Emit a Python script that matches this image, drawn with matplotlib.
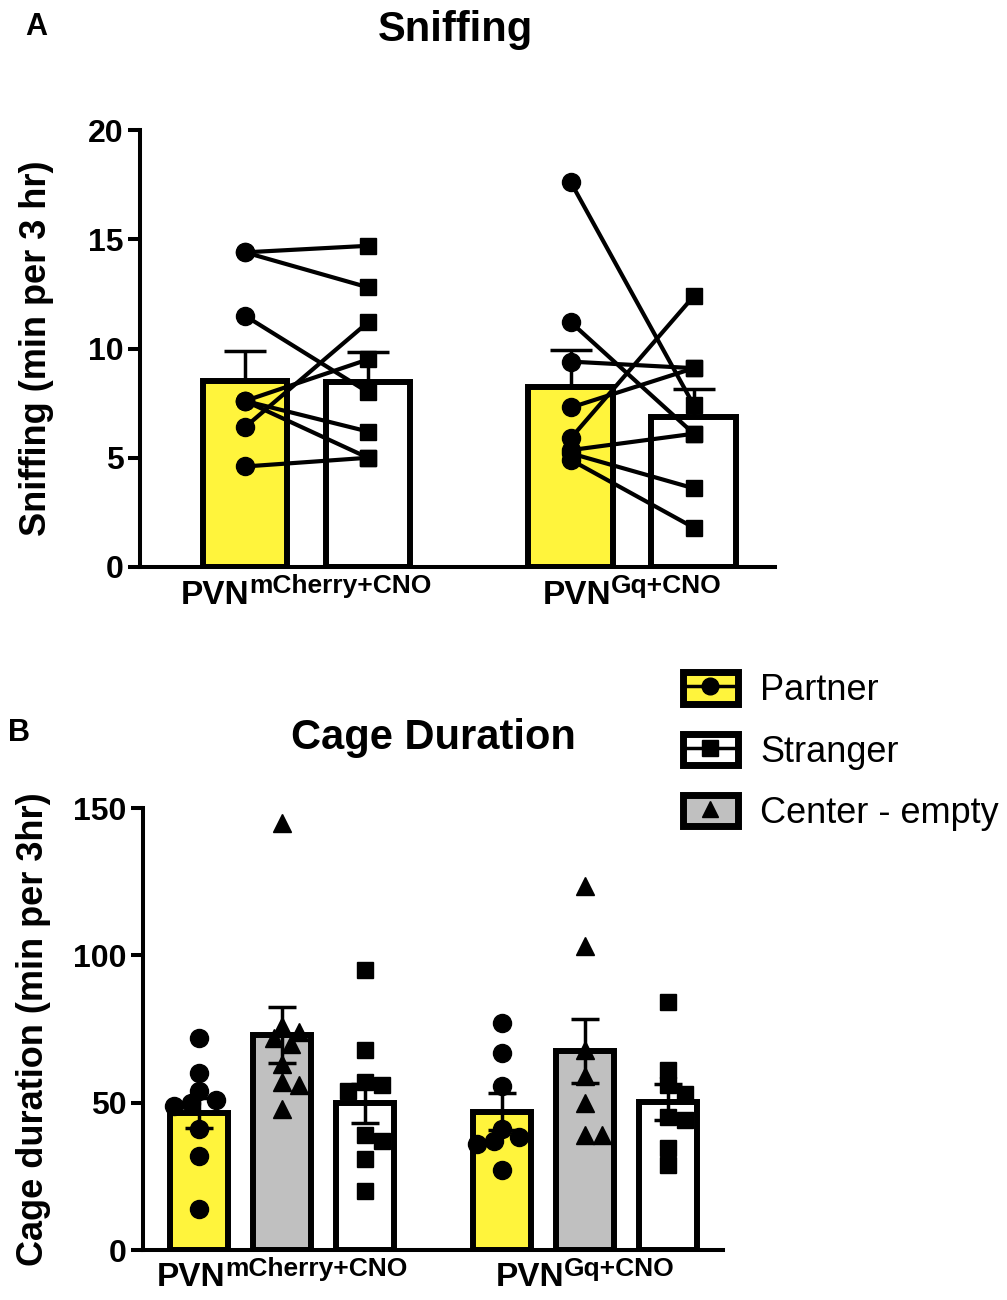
import matplotlib
matplotlib.use('Agg')
import matplotlib.pyplot as plt
from matplotlib.patches import Patch
from matplotlib.lines import Line2D

plt.rcParams['font.family'] = ['Liberation Sans', 'DejaVu Sans']

# ---- data ----
group_names = ['mCherry+CNO', 'Gq+CNO']

# A: sniffing, paired animals (partner -> stranger)
sniff_partner = [[14.4, 14.4, 11.5, 7.6, 7.6, 7.6, 6.4, 4.6],
                 [17.6, 11.2, 9.4, 7.3, 5.9, 5.35, 5.2, 4.9]]
sniff_stranger = [[14.7, 12.8, 8.0, 9.5, 6.2, 5.0, 11.2, 5.0],
                  [7.4, 6.1, 9.1, 9.1, 12.4, 6.1, 3.6, 1.8]]
sniff_mean_partner = [8.5, 8.25]
sniff_sem_partner = [1.4, 1.68]
sniff_mean_stranger = [8.45, 6.85]
sniff_sem_stranger = [1.4, 1.3]

# B: cage duration
cage_partner = [[72, 60, 54, 51, 50, 49, 41, 32, 14],
                [77, 67, 55.5, 41, 38.5, 37, 36, 27]]
cage_center = [[145, 76, 74, 72, 70, 63, 57, 56, 48],
               [123.5, 103, 68, 59, 50, 39, 39]]
cage_stranger = [[95, 68, 57, 56, 54, 39, 37, 31, 20],
                 [84, 61, 56, 53, 45, 44, 34.5, 29]]
cage_mean = {'partner': [46.5, 47.0], 'center': [73.0, 67.5], 'stranger': [49.8, 50.2]}
cage_sem = {'partner': [5.0, 6.2], 'center': [9.6, 10.8], 'stranger': [6.7, 6.0]}

YELLOW = '#FFF43C'
GRAY = '#C0C0C0'

fig = plt.figure(figsize=(10.07, 13.0), dpi=100)


def px_axes(l, t, r, b):
    W, H = 1007, 1300
    return fig.add_axes([l / W, 1 - b / H, (r - l) / W, (b - t) / H])


def style_axes(ax, ticks):
    for s in ['top', 'right']:
        ax.spines[s].set_visible(False)
    for s in ['left', 'bottom']:
        ax.spines[s].set_linewidth(2.9)
    ax.set_yticks(ticks, labels=[str(t) for t in ticks], fontsize=23, fontweight='bold')
    ax.tick_params(axis='y', length=9, width=2.9, pad=3)
    ax.set_xticks([])


def group_label(ax, xc, base, sup, ypad):
    # "PVN" with a superscript, centred as one block under xc
    r = fig.canvas.get_renderer()
    t1 = ax.annotate(base, xy=(xc, 0), xycoords=('data', 'axes fraction'),
                     xytext=(0, -ypad), textcoords='offset points',
                     ha='left', va='top', fontsize=24, fontweight='bold')
    t2 = ax.annotate(sup, xy=(1, 1), xycoords=t1, xytext=(0, 4),
                     textcoords='offset points', ha='left', va='top',
                     fontsize=19, fontweight='bold')
    w = t1.get_window_extent(r).width + t2.get_window_extent(r).width
    t1.xyann = (-w / 2 * 72 / fig.dpi, -ypad)


def swarm_x(vals, xc, xd, yd):
    placed, out = [], []
    for v in vals:
        for k in [0, 1, -1, 2, -2, 3, -3, 4, -4]:
            x = xc + k * xd * 0.5
            if all(((x - px) / xd) ** 2 + ((v - pv) / yd) ** 2 >= 0.6 for px, pv in placed):
                break
        placed.append((x, v))
        out.append(x)
    return out


# ---------------- panel A ----------------
axA = px_axes(140, 130, 775, 567)
posA = [[0, 1], [2.65, 3.65]]
bw = 0.69
for g in range(2):
    xp, xs = posA[g]
    axA.bar(xp, sniff_mean_partner[g], bw, color=YELLOW, edgecolor='k', lw=4.3, zorder=2)
    axA.bar(xs, sniff_mean_stranger[g], bw, color='white', edgecolor='k', lw=4.3, zorder=2)
    axA.errorbar(xp, sniff_mean_partner[g], yerr=[[0], [sniff_sem_partner[g]]], fmt='none',
                 ecolor='k', elinewidth=2.5, capsize=15, capthick=2.5, zorder=3)
    axA.errorbar(xs, sniff_mean_stranger[g], yerr=[[0], [sniff_sem_stranger[g]]], fmt='none',
                 ecolor='k', elinewidth=2.5, capsize=15, capthick=2.5, zorder=3)
    for a, b in zip(sniff_partner[g], sniff_stranger[g]):
        axA.plot([xp, xs], [a, b], color='k', lw=3, zorder=4)
    axA.plot([xp] * len(sniff_partner[g]), sniff_partner[g], 'o', color='k', ms=13, zorder=5)
    axA.plot([xs] * len(sniff_stranger[g]), sniff_stranger[g], 's', color='k', ms=12, zorder=5)
axA.set_xlim(-0.854, 4.31)
axA.set_ylim(0, 20)
style_axes(axA, [0, 5, 10, 15, 20])
axA.set_ylabel('Sniffing (min per 3 hr)', fontsize=26, fontweight='bold', labelpad=24)
for g in range(2):
    group_label(axA, sum(posA[g]) / 2, 'PVN', group_names[g], 9)
fig.text(455 / 1007, 1 - 30 / 1300, 'Sniffing', fontsize=30, fontweight='bold', ha='center', va='center')
fig.text(25 / 1007, 1 - 27 / 1300, 'A', fontsize=22, fontweight='bold', ha='left', va='center')

# ---------------- panel B ----------------
axB = px_axes(143, 808, 723, 1250)
posB = [[0, 1, 2], [3.65, 4.65, 5.65]]
bwB = 0.7
xd, yd = 17 / 83, 17 / 2.944
series = [('partner', cage_partner, YELLOW, 'o', 13),
          ('center', cage_center, GRAY, '^', 13),
          ('stranger', cage_stranger, 'white', 's', 12)]
for g in range(2):
    for i, (key, vals, col, mk, ms) in enumerate(series):
        x = posB[g][i]
        axB.bar(x, cage_mean[key][g], bwB, color=col, edgecolor='k', lw=4.3, zorder=2)
        xs = swarm_x(vals[g], x, xd, yd)
        axB.plot(xs, vals[g], mk, color='k', ms=ms, zorder=4, ls='none')
        axB.errorbar(x, cage_mean[key][g], yerr=cage_sem[key][g], fmt='none',
                     ecolor='k', elinewidth=2.5, capsize=10, capthick=2.5, zorder=5)
axB.set_xlim(-0.675, 6.31)
axB.set_ylim(0, 150)
style_axes(axB, [0, 50, 100, 150])
axB.set_ylabel('Cage duration (min per 3hr)', fontsize=26, fontweight='bold', labelpad=16)
for g in range(2):
    group_label(axB, posB[g][1], 'PVN', group_names[g], 9)
fig.text(433 / 1007, 1 - 738 / 1300, 'Cage Duration', fontsize=30, fontweight='bold', ha='center', va='center')
fig.text(8 / 1007, 1 - 733 / 1300, 'B', fontsize=22, fontweight='bold', ha='left', va='center')

# legend
handles = [
    (Patch(facecolor=YELLOW, edgecolor='k', lw=5),
     Line2D([], [], color='k', lw=2.5, marker='o', ms=12)),
    (Patch(facecolor='white', edgecolor='k', lw=5),
     Line2D([], [], color='k', lw=2.5, marker='s', ms=11)),
    (Patch(facecolor=GRAY, edgecolor='k', lw=5),
     Line2D([], [], color='k', ls='none', marker='^', ms=12)),
]
fig.legend(handles, ['Partner', 'Stranger', 'Center - empty'], loc='upper left',
           bbox_to_anchor=(650 / 1007, 1 - 640 / 1300), frameon=False, fontsize=26,
           handlelength=1.55, handleheight=0.95, labelspacing=0.7, handletextpad=0.6)

fig.savefig('out.png', dpi=100)
